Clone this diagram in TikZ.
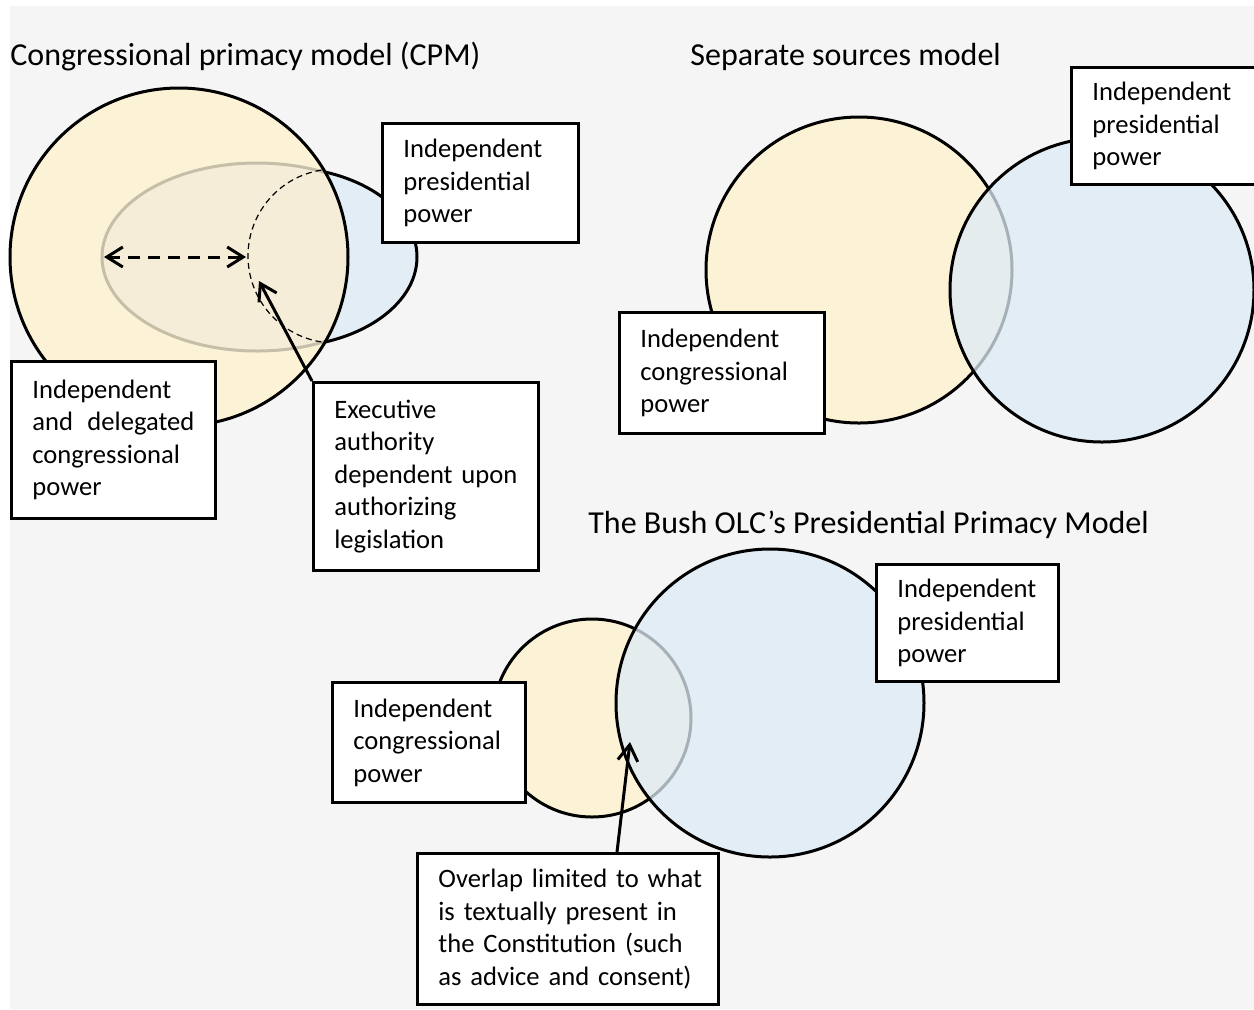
\documentclass[tikz,border=0pt]{standalone}
\usepackage{fontspec}
\setmainfont{Carlito}
\usetikzlibrary{arrows.meta}

\definecolor{bgGrey}{RGB}{245,245,245}
\definecolor{congYellow}{RGB}{252,242,214}
\definecolor{presBlue}{RGB}{222,235,247}
\definecolor{presBlueBg}{RGB}{227,237,246}
\definecolor{innerFill}{RGB}{246,237,216}
\definecolor{innerLine}{RGB}{198,190,168}

\newcommand{\boxfont}{\fontsize{13.3}{16.25}\selectfont\hyphenpenalty=10000\hfuzz=30pt}
\newcommand{\titlefont}{\fontsize{16}{19.5}\selectfont}

\tikzset{
  powerbox/.style={draw, line width=1.4pt, fill=white, anchor=north west,
    align=left, inner xsep=10.5pt, inner ysep=0pt, font=\boxfont},
  modeltitle/.style={anchor=base west, inner sep=0pt, font=\titlefont},
  outline/.style={draw=black, line width=1.5pt},
}

\begin{document}
\begin{tikzpicture}[x=0.5pt, y=-0.5pt, >={Straight Barb[length=8pt,width=10pt]}]
  \useasboundingbox (0,0) rectangle (1254,1009);
  \fill[bgGrey] (10,6) rectangle (1254,1009);

  % 1. Congressional primacy model
  \node[modeltitle] (cpmTitle) at (10,65) {Congressional primacy model (CPM)};
  \coordinate (cpmCong)   at (179,257); % congressional circle
  \coordinate (cpmPresC)  at (280,257); % presidential ellipse
  \coordinate (cpmInnerC) at (257,257); % delegated area
  \filldraw[outline, fill=presBlueBg] (cpmPresC) ellipse [x radius=68.5pt, y radius=45pt];
  \fill[congYellow] (cpmCong) circle (84.5pt);
  \begin{scope}
    \clip (cpmCong) circle (84.5pt);
    \filldraw[fill=innerFill, draw=innerLine, line width=1.5pt] (cpmInnerC) ellipse [x radius=77.5pt, y radius=47pt];
  \end{scope}
  \draw[outline] (cpmCong) circle (84.5pt);
  % hidden edge of the presidential area
  \draw[line width=0.6pt, dash pattern=on 3pt off 2pt] (335,256) ++(99:43.5pt) arc[start angle=99, end angle=261, radius=43.5pt];

  \coordinate (cpmL)   at (104,257);
  \coordinate (cpmR)   at (246,257);
  \coordinate (cpmTip) at (259,281);
  \draw[<->, line width=1.5pt, dash pattern=on 6pt off 4pt] (cpmL) -- (cpmR);

  \node[powerbox, text width=77pt, minimum height=59.5pt] (cpmPres) at (381,122)
    {Independent\\presidential\\power};
  \node[powerbox, text width=81pt, minimum height=78.5pt] (cpmDeleg) at (10,360)
    {Independent\\and\hfill delegated\\congressional\\power};
  \node[powerbox, text width=91.5pt, minimum height=94pt] (cpmExec) at (312,381)
    {Executive\\authority\\dependent~upon\\authorizing\\legislation};
  \draw[->, line width=1.5pt] (cpmExec.north west) -- (cpmTip);

  % 2. Separate sources model
  \node[modeltitle] (sepTitle) at (690,65) {Separate sources model};
  \filldraw[outline, fill=congYellow] (859,270) circle (76.5pt);
  \filldraw[outline, fill=presBlue, fill opacity=0.75] (1102,290) circle (76pt);
  \node[powerbox, text width=80pt, minimum height=58.5pt] (sepPres) at (1070,66)
    {Independent\\presidential\\power};
  \node[powerbox, text width=81.5pt, minimum height=60.5pt] (sepCong) at (618,311)
    {Independent\\congressional\\power};

  % 3. Presidential primacy model
  \node[modeltitle] (bushTitle) at (588,533) {The Bush OLC’s Presidential Primacy Model};
  \filldraw[outline, fill=congYellow] (592,718) circle (49.5pt);
  \filldraw[outline, fill=presBlue, fill opacity=0.75] (770,703) circle (77pt);
  \node[powerbox, text width=70pt, minimum height=58.5pt] (bushPres) at (875,563)
    {Independent\\presidential\\power};
  \node[powerbox, text width=75.5pt, minimum height=60pt] (bushCong) at (331,681)
    {Independent\\congressional\\power};
  \node[powerbox, text width=129.5pt, minimum height=75.5pt] (bushOver) at (416,852)
    {Overlap~limited~to~what\\is~textually~present~in\\the~Constitution~(such\\as~advice~and~consent)};
  \coordinate (bushTip) at (630,742);
  \draw[->, line width=1.5pt] ([xshift=100.5pt]bushOver.north west) -- (bushTip);
\end{tikzpicture}
\end{document}
